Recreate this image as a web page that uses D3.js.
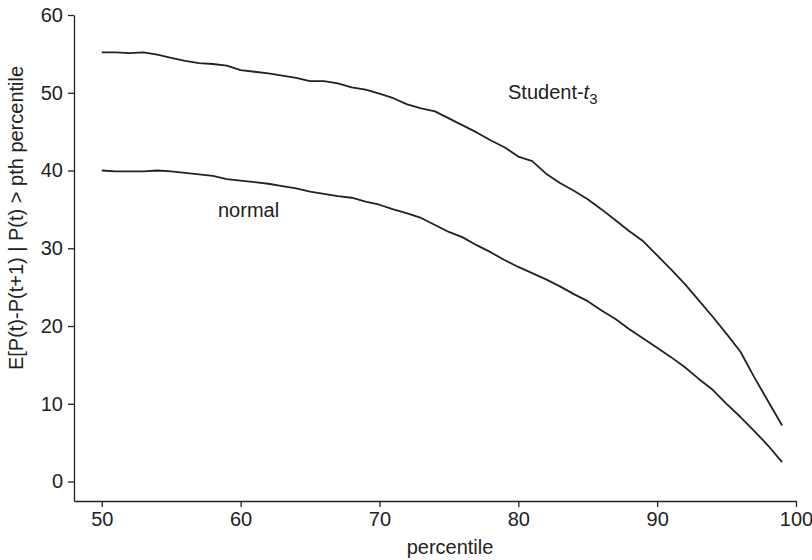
<!DOCTYPE html>
<html>
<head>
<meta charset="utf-8">
<script src="https://cdn.jsdelivr.net/npm/d3@7"></script>
<style>
  html, body { margin: 0; padding: 0; background: #fff; }
  svg { display: block; }
  text { font-family: "Liberation Sans", Arial, Helvetica, sans-serif; fill: #222; }
</style>
</head>
<body>
<svg id="chart" width="812" height="560"></svg>
<script>
const percentiles = [50,51,52,53,54,55,56,57,58,59,60,61,62,63,64,65,66,67,68,69,70,71,72,73,74,75,76,77,78,79,80,81,82,83,84,85,86,87,88,89,90,91,92,93,94,95,96,97,98,99];
const studentT3 = [55.2,55.2,55.1,55.2,54.9,54.5,54.1,53.8,53.7,53.5,52.9,52.7,52.5,52.2,51.9,51.5,51.5,51.2,50.7,50.4,49.9,49.3,48.5,48.0,47.6,46.7,45.8,44.9,43.9,43.0,41.8,41.2,39.6,38.4,37.4,36.3,35.0,33.6,32.2,30.9,29.1,27.3,25.4,23.3,21.2,19.0,16.7,13.4,10.3,7.2];
const normal = [40.0,39.9,39.9,39.9,40.0,39.9,39.7,39.5,39.3,38.9,38.7,38.5,38.3,38.0,37.7,37.3,37.0,36.7,36.5,36.0,35.6,35.0,34.5,33.9,33.0,32.1,31.4,30.4,29.5,28.5,27.6,26.8,26.0,25.1,24.1,23.2,22.0,20.9,19.6,18.4,17.2,16.0,14.7,13.2,11.8,10.0,8.3,6.5,4.6,2.5];
const xTicks = [50,60,70,80,90,100];
const yTicks = [0,10,20,30,40,50,60];
const xLabel = "percentile";
const yLabel = "E[P(t)-P(t+1) | P(t) > pth percentile";

const svg = d3.select("#chart");
const x = d3.scaleLinear().domain([48, 100]).range([74, 796]);
const y = d3.scaleLinear().domain([-2.5, 60]).range([501, 15]);
const fs = 20;
const ink = "#222";

const gx = svg.append("g").attr("transform", "translate(0,501)")
  .call(d3.axisBottom(x).tickValues(xTicks).tickSize(6).tickPadding(5).tickSizeOuter(0));
const gy = svg.append("g").attr("transform", "translate(74,0)")
  .call(d3.axisLeft(y).tickValues(yTicks).tickSize(6).tickPadding(5).tickSizeOuter(0));
[gx, gy].forEach(g => {
  g.select(".domain").attr("stroke", ink).attr("stroke-width", 1.3);
  g.selectAll(".tick line").attr("stroke", ink).attr("stroke-width", 1.3);
  g.selectAll(".tick text").attr("font-size", fs).attr("fill", ink)
    .style("font-family", '"Liberation Sans", Arial, sans-serif');
});

const line = d3.line().x((d, i) => x(percentiles[i])).y(d => y(d));
[studentT3, normal].forEach(s => {
  svg.append("path").datum(s).attr("d", line)
    .attr("fill", "none").attr("stroke", ink).attr("stroke-width", 1.8)
    .attr("stroke-linejoin", "round");
});

svg.append("text").attr("x", 450).attr("y", 554).attr("text-anchor", "middle")
  .attr("font-size", fs).text(xLabel);
svg.append("text").attr("transform", "translate(23,218) rotate(-90)")
  .attr("text-anchor", "middle").attr("font-size", fs).text(yLabel);

const st = svg.append("text").attr("x", 508).attr("y", 99).attr("font-size", fs);
st.append("tspan").text("Student-");
st.append("tspan").attr("font-style", "italic").text("t");
st.append("tspan").attr("font-size", 15).attr("dy", 5).text("3");

svg.append("text").attr("x", 218).attr("y", 217).attr("font-size", fs).text("normal");
</script>
</body>
</html>
